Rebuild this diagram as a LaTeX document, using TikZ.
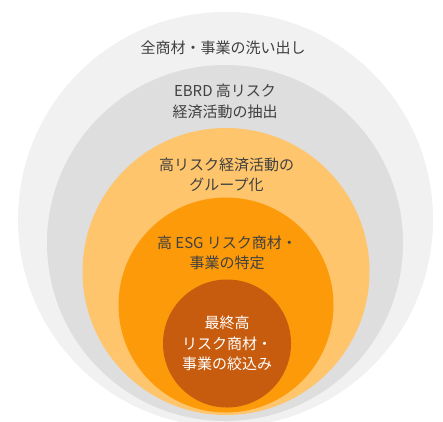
\documentclass[tikz,border=0pt]{standalone}
\usepackage{fontspec}
\setmainfont{Noto Sans CJK JP}
\definecolor{c1}{HTML}{F1F1F1}
\definecolor{c2}{HTML}{DEDEDE}
\definecolor{c3}{HTML}{FEC56C}
\definecolor{c4}{HTML}{FC9A0A}
\definecolor{c5}{HTML}{C75B0E}
\definecolor{txt}{HTML}{404040}
\begin{document}
\begin{tikzpicture}[x=1pt,y=-1pt,
  lbl/.style={align=center,font=\fontsize{15}{20.5}\selectfont,text=txt,inner sep=0pt}]
\useasboundingbox (0,0) rectangle (443,421);
\clip (0,0) rectangle (443,421);
\fill[white] (0,0) rectangle (443,421);
\fill[c1] (225.5,219.5) circle[radius=207.5];
\fill[c2] (225,243) circle[radius=178];
\fill[c3] (226,271.5) circle[radius=143.5];
\fill[c4] (226,305) circle[radius=107.5];
\fill[c5] (227,343.5) circle[radius=64];
\node[lbl] (t1) at (223,48) {全商材・事業の洗い出し};
\node[lbl] (t2) at (225,101.5) {EBRD 高リスク\\経済活動の抽出};
\node[lbl] (t3) at (226.5,175) {高リスク経済活動の\\グループ化};
\node[lbl] (t4) at (227,253) {高 ESG リスク商材・\\事業の特定};
\node[lbl,text=white] (t5) at (227,343.5) {最終高\\リスク商材・\\事業の絞込み};
\end{tikzpicture}
\end{document}
